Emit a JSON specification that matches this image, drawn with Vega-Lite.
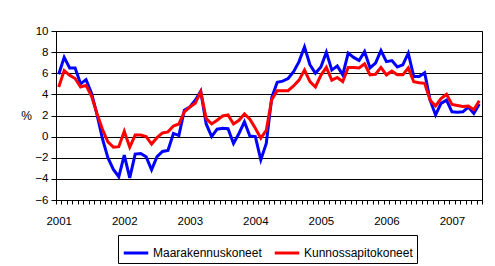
{
  "$schema": "https://vega.github.io/schema/vega-lite/v6.json",
  "width": 426,
  "height": 169,
  "autosize": {"type": "none"},
  "padding": {"left": 56, "top": 31, "right": 13, "bottom": 66},
  "background": "white",
  "config": {
    "font": "Liberation Sans",
    "view": {"stroke": "black", "strokeWidth": 1}
  },
  "data": {"values": [
    {"m":"2001-01","b":5.9,"r":4.7},{"m":"2001-02","b":7.5,"r":6.25},{"m":"2001-03","b":6.5,"r":5.8},{"m":"2001-04","b":6.5,"r":5.5},{"m":"2001-05","b":5.0,"r":4.7},{"m":"2001-06","b":5.4,"r":4.85},{"m":"2001-07","b":4.1,"r":3.85},{"m":"2001-08","b":2.1,"r":2.2},{"m":"2001-09","b":-0.2,"r":0.7},{"m":"2001-10","b":-2.0,"r":-0.5},{"m":"2001-11","b":-3.1,"r":-1.0},{"m":"2001-12","b":-3.8,"r":-0.95},
    {"m":"2002-01","b":-1.75,"r":0.5},{"m":"2002-02","b":-3.9,"r":-1.0},{"m":"2002-03","b":-1.65,"r":0.15},{"m":"2002-04","b":-1.6,"r":0.15},{"m":"2002-05","b":-1.9,"r":0.0},{"m":"2002-06","b":-3.15,"r":-0.7},{"m":"2002-07","b":-1.9,"r":-0.1},{"m":"2002-08","b":-1.4,"r":0.35},{"m":"2002-09","b":-1.3,"r":0.45},{"m":"2002-10","b":0.3,"r":1.0},{"m":"2002-11","b":0.1,"r":1.2},{"m":"2002-12","b":2.5,"r":2.35},
    {"m":"2003-01","b":2.8,"r":2.8},{"m":"2003-02","b":3.45,"r":3.15},{"m":"2003-03","b":4.3,"r":4.25},{"m":"2003-04","b":1.2,"r":1.7},{"m":"2003-05","b":0.0,"r":1.2},{"m":"2003-06","b":0.7,"r":1.55},{"m":"2003-07","b":0.8,"r":1.95},{"m":"2003-08","b":0.75,"r":2.05},{"m":"2003-09","b":-0.65,"r":1.2},{"m":"2003-10","b":0.3,"r":1.55},{"m":"2003-11","b":1.4,"r":2.15},{"m":"2003-12","b":0.05,"r":1.65},
    {"m":"2004-01","b":0.0,"r":0.8},{"m":"2004-02","b":-2.2,"r":-0.15},{"m":"2004-03","b":-0.65,"r":0.6},{"m":"2004-04","b":3.7,"r":3.5},{"m":"2004-05","b":5.15,"r":4.35},{"m":"2004-06","b":5.25,"r":4.35},{"m":"2004-07","b":5.5,"r":4.35},{"m":"2004-08","b":6.15,"r":4.8},{"m":"2004-09","b":7.1,"r":5.35},{"m":"2004-10","b":8.5,"r":6.3},{"m":"2004-11","b":6.8,"r":5.2},{"m":"2004-12","b":6.0,"r":4.7},
    {"m":"2005-01","b":6.6,"r":5.8},{"m":"2005-02","b":8.0,"r":6.55},{"m":"2005-03","b":6.3,"r":5.35},{"m":"2005-04","b":6.7,"r":5.6},{"m":"2005-05","b":5.85,"r":5.2},{"m":"2005-06","b":7.9,"r":6.55},{"m":"2005-07","b":7.5,"r":6.55},{"m":"2005-08","b":7.2,"r":6.5},{"m":"2005-09","b":8.05,"r":6.9},{"m":"2005-10","b":6.5,"r":5.85},{"m":"2005-11","b":6.95,"r":5.9},{"m":"2005-12","b":8.15,"r":6.55},
    {"m":"2006-01","b":7.1,"r":5.85},{"m":"2006-02","b":7.2,"r":6.2},{"m":"2006-03","b":6.6,"r":5.85},{"m":"2006-04","b":6.8,"r":5.85},{"m":"2006-05","b":7.9,"r":6.5},{"m":"2006-06","b":5.7,"r":5.2},{"m":"2006-07","b":5.7,"r":5.1},{"m":"2006-08","b":6.05,"r":5.05},{"m":"2006-09","b":3.45,"r":3.45},{"m":"2006-10","b":2.05,"r":2.9},{"m":"2006-11","b":3.15,"r":3.6},{"m":"2006-12","b":3.45,"r":4.0},
    {"m":"2007-01","b":2.35,"r":3.05},{"m":"2007-02","b":2.3,"r":2.95},{"m":"2007-03","b":2.35,"r":2.85},{"m":"2007-04","b":2.8,"r":2.9},{"m":"2007-05","b":2.2,"r":2.55},{"m":"2007-06","b":3.1,"r":3.4}
  ]},
  "transform": [
    {"fold": ["b", "r"], "as": ["k", "v"]},
    {"calculate": "datum.k === 'b' ? 'Maarakennuskoneet' : 'Kunnossapitokoneet'", "as": "series"}
  ],
  "encoding": {
    "x": {
      "field": "m", "type": "ordinal", "bandPosition": 0.5,
      "scale": {"type": "band", "paddingInner": 0, "paddingOuter": 0},
      "axis": {
        "title": null, "labelAngle": 0, "domainColor": "black", "tickColor": "black",
        "tickBand": "extent", "tickSize": 4, "labelPadding": 11,
        "labelFontSize": 11.5, "labelColor": "black", "labelOverlap": false,
        "labelExpr": "substring(datum.value,5,7) == '01' ? substring(datum.value,0,4) : ''"
      }
    },
    "y": {
      "field": "v", "type": "quantitative",
      "scale": {"domain": [-6, 10], "nice": false, "zero": false},
      "axis": {
        "values": [-6,-4,-2,0,2,4,6,8,10], "title": "%", "titleAngle": 0,
        "titleX": -30, "titleY": 84, "titleAlign": "center", "titleBaseline": "middle",
        "titleFontWeight": "normal", "titleFontSize": 12, "titleColor": "black",
        "grid": true, "gridColor": "black", "gridOpacity": 1, "gridWidth": 1,
        "domainColor": "black", "tickColor": "black", "tickSize": 5,
        "labelPadding": 3, "labelFontSize": 11.5, "labelColor": "black"
      }
    },
    "color": {
      "field": "series", "type": "nominal",
      "scale": {"domain": ["Maarakennuskoneet", "Kunnossapitokoneet"], "range": ["#0000FF", "#FF0000"]},
      "legend": {
        "title": null, "orient": "none", "legendX": 62, "legendY": 204,
        "direction": "horizontal", "strokeColor": "black", "padding": 4,
        "symbolType": "stroke", "symbolSize": 600, "symbolStrokeWidth": 3,
        "labelFontSize": 12, "labelColor": "black", "labelOffset": 3, "columnPadding": 6
      }
    }
  },
  "layer": [
    {"transform": [{"filter": "datum.k === 'b'"}], "mark": {"type": "line", "strokeWidth": 3}},
    {"transform": [{"filter": "datum.k === 'r'"}], "mark": {"type": "line", "strokeWidth": 3}}
  ]
}
